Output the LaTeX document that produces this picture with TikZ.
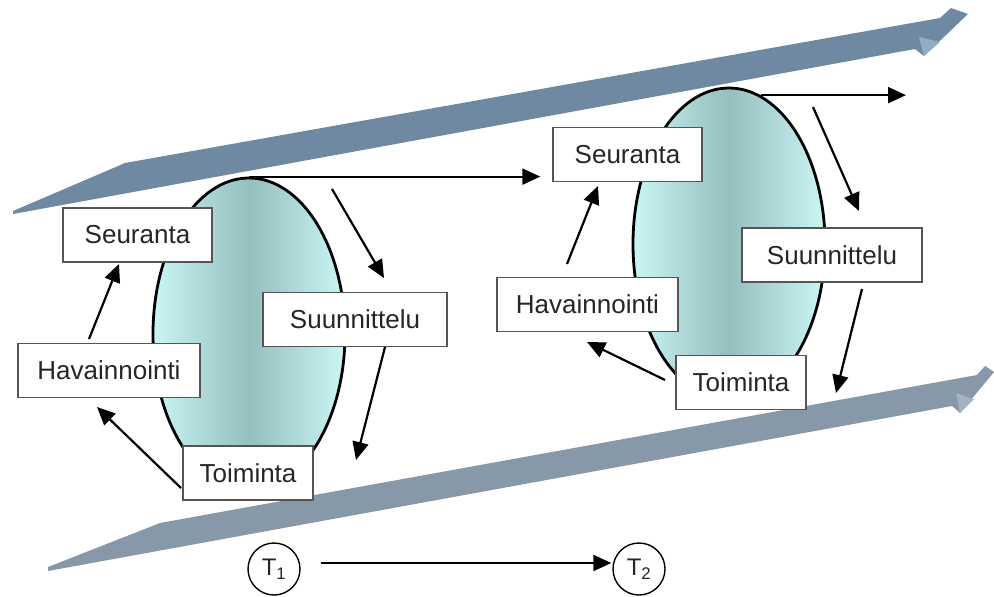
\documentclass[tikz,border=0pt]{standalone}
\usepackage{fontspec}
\setmainfont{Liberation Sans}
\usetikzlibrary{arrows.meta,shapes.geometric,calc}

\definecolor{bandtop}{HTML}{7089A3}
\definecolor{bandtopface}{HTML}{94ACC2}
\definecolor{bandbot}{HTML}{8798A8}
\definecolor{bandbotface}{HTML}{A3B3C3}
\definecolor{cylEdge}{HTML}{CBF6F6}
\definecolor{cylMid}{HTML}{95BEBE}
\definecolor{boxline}{HTML}{555555}
\definecolor{txt}{HTML}{262626}

\begin{document}
\begin{tikzpicture}[x=1pt,y=-1pt,
  label box/.style={draw=boxline, line width=1.4pt, fill=white, minimum height=54pt,
    inner sep=0pt, text=txt, font=\fontsize{26}{30}\selectfont},
  cycle shape/.style={ellipse, draw=black, line width=2.8pt, minimum width=192pt,
    minimum height=312pt, inner sep=0pt, left color=cylEdge, right color=cylEdge,
    middle color=cylMid},
  flow/.style={line width=2.2pt, -{Triangle[length=18pt,width=16pt]}},
  time node/.style={circle, draw=black, line width=1.4pt, minimum size=52pt,
    inner sep=0pt, text=txt, font=\fontsize{24}{28}\selectfont}]

\useasboundingbox (0,0) rectangle (994,597);

% upper time band with its arrowhead
\fill[bandtop] (13,211) -- (125,163) -- (940,18) -- (951,8) -- (968,14)
  -- (924,56) -- (915,49) -- (13,214) -- cycle;
\fill[bandtopface] (919,37) -- (940,42) -- (924,56) -- cycle;

% lower time band with its arrowhead
\fill[bandbot] (48,567) -- (160,523) -- (977,375) -- (985,366) -- (994,372)
  -- (960,413) -- (952,406) -- (48,571) -- cycle;
\fill[bandbotface] (956,393) -- (974,399) -- (960,413) -- cycle;

% the two cycles
\node[cycle shape] (c1) at (249,334) {};
\node[cycle shape] (c2) at (729,244) {};

% phase boxes, first cycle
\node[label box, minimum width=149pt] (s1) at (137.5,235) {Seuranta};
\node[label box, minimum width=182pt] (h1) at (109,370.5) {Havainnointi};
\node[label box, minimum width=184pt] (u1) at (355,319.5) {Suunnittelu};
\node[label box, minimum width=130pt] (t1) at (248,473) {Toiminta};

% phase boxes, second cycle
\node[label box, minimum width=149pt] (s2) at (627.5,154.5) {Seuranta};
\node[label box, minimum width=181pt] (h2) at (587.5,304.5) {Havainnointi};
\node[label box, minimum width=180pt] (u2) at (832,255) {Suunnittelu};
\node[label box, minimum width=130pt] (t2) at (741,382.5) {Toiminta};

% arrow ends around the cycles
\coordinate (a1s) at (332,189);  \coordinate (a1e) at (384,278);
\coordinate (a2s) at (385,347);  \coordinate (a2e) at (356,460);
\coordinate (a3s) at (181,488);  \coordinate (a3e) at (97,407);
\coordinate (a4s) at (89,339);   \coordinate (a4e) at (119,264);
\coordinate (b1s) at (813,107);  \coordinate (b1e) at (859,211);
\coordinate (b2s) at (862,289);  \coordinate (b2e) at (836,393);
\coordinate (b3s) at (665,380);  \coordinate (b3e) at (587,342);
\coordinate (b4s) at (567,264);  \coordinate (b4e) at (598,186);
\coordinate (out2) at (906,97);

\draw[flow] (a1s) -- (a1e);
\draw[flow] (a2s) -- (a2e);
\draw[flow] (a3s) -- (a3e);
\draw[flow] (a4s) -- (a4e);
\draw[flow] (b1s) -- (b1e);
\draw[flow] (b2s) -- (b2e);
\draw[flow] (b3s) -- (b3e);
\draw[flow] (b4s) -- (b4e);

% transfer from the first cycle to the next, and onwards
\draw[flow, shorten >=12pt] (c1.north) -- (c1.north -| s2.west);
\draw[flow] (c2.78) -- (c2.78 -| out2);

% time points
\node[time node] (T1) at (274,569) {T\textsubscript{1}};
\node[time node] (T2) at (639,569) {T\textsubscript{2}};
\draw[flow, shorten <=20pt, shorten >=1pt] ([yshift=6pt]T1.east) -- ([yshift=6pt]T2.west);

\end{tikzpicture}
\end{document}
